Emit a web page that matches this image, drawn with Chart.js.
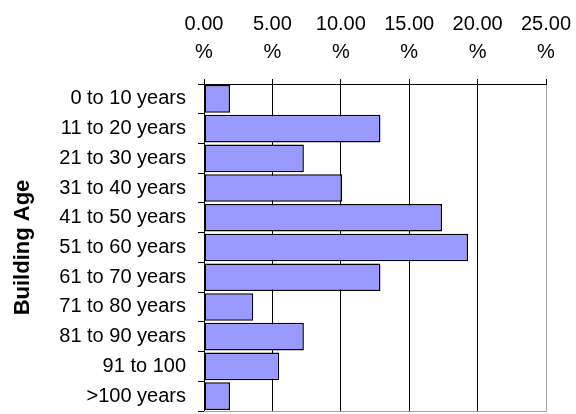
<!DOCTYPE html>
<html>
<head>
<meta charset="utf-8">
<script src="https://cdn.jsdelivr.net/npm/chart.js@4/dist/chart.umd.min.js"></script>
<style>
  html, body { margin: 0; padding: 0; background: #fff; }
  #wrap { width: 576px; height: 414px; }
</style>
</head>
<body>
<div id="wrap"><canvas id="c" width="576" height="414"></canvas></div>
<script>
// Share of buildings by age band (percent)
const ageBands = ['0 to 10 years', '11 to 20 years', '21 to 30 years', '31 to 40 years',
  '41 to 50 years', '51 to 60 years', '61 to 70 years', '71 to 80 years',
  '81 to 90 years', '91 to 100', '>100 years'];
const sharePct = [1.9, 12.9, 7.3, 10.1, 17.4, 19.3, 12.9, 3.6, 7.3, 5.5, 1.9];
const axisTicks = [0, 5, 10, 15, 20, 25];
const axisTitle = 'Building Age';

const fontFamily = 'Arial, "Liberation Sans", sans-serif';

// Grey frame line along the bottom of the plot area
const bottomFrame = {
  id: 'bottomFrame',
  afterDatasetsDraw(chart) {
    const { ctx, chartArea: a } = chart;
    ctx.save();
    ctx.strokeStyle = '#a0a0a0';
    ctx.lineWidth = 1;
    ctx.beginPath();
    ctx.moveTo(a.left, a.bottom + 0.5);
    ctx.lineTo(a.right + 0.5, a.bottom + 0.5);
    ctx.stroke();
    ctx.restore();
  }
};

new Chart(document.getElementById('c'), {
  type: 'bar',
  data: {
    labels: ageBands,
    datasets: [{
      data: sharePct,
      backgroundColor: '#9999FF',
      borderColor: '#000000',
      borderWidth: 1.5,
      borderSkipped: false,
      barPercentage: 0.93,
      categoryPercentage: 1.0
    }]
  },
  options: {
    indexAxis: 'y',
    responsive: false,
    animation: false,
    layout: { padding: { left: 10, right: 0, top: 4, bottom: 3 } },
    plugins: { legend: { display: false }, tooltip: { enabled: false } },
    scales: {
      x: {
        position: 'top',
        min: axisTicks[0],
        max: axisTicks[axisTicks.length - 1],
        afterBuildTicks: (scale) => { scale.ticks = axisTicks.map(v => ({ value: v })); },
        ticks: {
          color: '#000',
          font: { family: fontFamily, size: 20, lineHeight: 1.4 },
          padding: 13,
          maxRotation: 0,
          callback: (v) => [Number(v).toFixed(2), '%']
        },
        grid: {
          color: (ctx) => (ctx.tick && ctx.tick.value === 25 ? '#a0a0a0' : '#000'),
          tickColor: '#000',
          lineWidth: 1,
          tickLength: 5,
          drawTicks: true
        },
        border: { display: true, color: '#000', width: 1 },
        afterFit: (scale) => {
          scale.height = 80;
          scale.paddingLeft = 0;
          scale.paddingRight = 30;
        }
      },
      y: {
        ticks: {
          color: '#000',
          font: { family: fontFamily, size: 20 },
          padding: 12
        },
        grid: {
          offset: true,
          drawOnChartArea: false,
          color: '#000',
          tickLength: 6
        },
        border: { display: true, color: '#000', width: 1 },
        title: {
          display: true,
          text: axisTitle,
          color: '#000',
          font: { family: fontFamily, size: 22, weight: 'bold' },
          padding: { top: 0, bottom: 4 }
        },
        afterFit: (scale) => {
          scale.width = 194;
          scale.paddingTop = 0;
          scale.paddingBottom = 0;
        }
      }
    }
  },
  plugins: [bottomFrame]
});
</script>
</body>
</html>
